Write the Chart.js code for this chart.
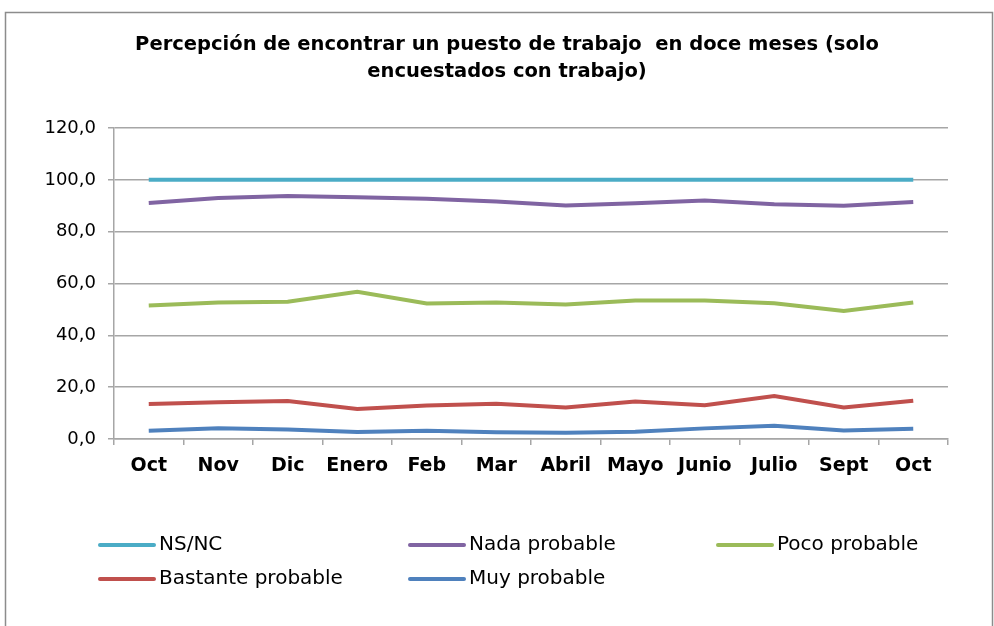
<!DOCTYPE html>
<html>
<head>
<meta charset="utf-8">
<script src="https://cdn.jsdelivr.net/npm/chart.js@4"></script>
<style>
  html, body { margin: 0; padding: 0; background: #fff; }
  #wrap { position: relative; width: 994px; height: 626px; }
</style>
</head>
<body>
<div id="wrap"><canvas id="chart" width="994" height="626"></canvas></div>
<script>
// Data
const months = ['Oct', 'Nov', 'Dic', 'Enero', 'Feb', 'Mar', 'Abril', 'Mayo', 'Junio', 'Julio', 'Sept', 'Oct'];
const nsnc = [100, 100, 100, 100, 100, 100, 100, 100, 100, 100, 100, 100];
const nadaProbable = [91.1, 93.0, 93.8, 93.3, 92.7, 91.6, 90.1, 91.0, 92.0, 90.6, 90.0, 91.4];
const pocoProbable = [51.5, 52.7, 53.0, 56.8, 52.3, 52.7, 51.9, 53.4, 53.4, 52.4, 49.4, 52.7];
const bastanteProbable = [13.5, 14.2, 14.7, 11.6, 12.9, 13.6, 12.2, 14.5, 13.0, 16.6, 12.2, 14.8];
const muyProbable = [3.2, 4.1, 3.7, 2.7, 3.2, 2.6, 2.4, 2.8, 4.1, 5.1, 3.3, 4.0];
const titleLines = ['Percepción de encontrar un puesto de trabajo  en doce meses (solo', 'encuestados con trabajo)'];

const FONT = "'DejaVu Sans', 'Liberation Sans', Arial, sans-serif";

function line(label, data, color) {
    return {
        label: label,
        data: data,
        borderColor: color,
        backgroundColor: color,
        borderWidth: 4,
        pointRadius: 0,
        tension: 0,
        fill: false
    };
}

// Title centred on the whole frame (Excel style), not on the plot
const titlePlugin = {
    id: 'frameTitle',
    afterDraw(chart) {
        const c = chart.ctx;
        c.save();
        c.font = 'bold 19.5px ' + FONT;
        c.fillStyle = '#000';
        c.textAlign = 'center';
        c.textBaseline = 'middle';
        titleLines.forEach((t, i) => c.fillText(t, 507, 45 + i * 27));
        c.restore();
    }
};

// Excel-like legend: 3 columns, 2 rows, below the plot
const legendPlugin = {
    id: 'customLegend',
    afterDraw(chart) {
        const c = chart.ctx;
        const cols = [100, 410, 718];
        const rows = [545, 579];
        c.save();
        c.font = '20px ' + FONT;
        c.textBaseline = 'middle';
        chart.data.datasets.forEach((ds, i) => {
            const x = cols[i % 3];
            const y = rows[Math.floor(i / 3)];
            c.strokeStyle = ds.borderColor;
            c.lineWidth = 4;
            c.lineCap = 'round';
            c.beginPath();
            c.moveTo(x, y);
            c.lineTo(x + 54, y);
            c.stroke();
            c.fillStyle = '#000';
            c.fillText(ds.label, x + 59, y);
        });
        c.restore();
    }
};

const borderPlugin = {
    id: 'frame',
    beforeDraw(chart) {
        const c = chart.ctx;
        c.save();
        c.strokeStyle = '#8c8c8c';
        c.lineWidth = 1.5;
        c.strokeRect(5.5, 12.5, 987, 700);
        c.restore();
    }
};

const ctx = document.getElementById('chart');
new Chart(ctx.getContext('2d'), {
    type: 'line',
    data: {
        labels: months,
        datasets: [
            line('NS/NC', nsnc, '#4BACC6'),
            line('Nada probable', nadaProbable, '#8064A2'),
            line('Poco probable', pocoProbable, '#9BBB59'),
            line('Bastante probable', bastanteProbable, '#C0504D'),
            line('Muy probable', muyProbable, '#4F81BD')
        ]
    },
    options: {
        responsive: false,
        animation: false,
        layout: { padding: { top: 128, right: 46, bottom: 127, left: 0 } },
        plugins: {
            legend: { display: false },
            tooltip: { enabled: false },
            title: { display: false }
        },
        scales: {
            x: {
                offset: true,
                afterFit(scale) { scale.height = 60; },
                grid: { offset: true, drawOnChartArea: false, color: '#a6a6a6', lineWidth: 1.5, tickLength: 6 },
                border: { color: '#a6a6a6', width: 1.5 },
                ticks: { color: '#000', padding: 10, font: { family: FONT, size: 19, weight: 'bold' }, maxRotation: 0 }
            },
            y: {
                min: 0,
                max: 120,
                afterFit(scale) { scale.width = 114; },
                grid: { color: '#a6a6a6', lineWidth: 1.5, tickLength: 6 },
                border: { color: '#a6a6a6', width: 1.5 },
                ticks: {
                    stepSize: 20,
                    color: '#000',
                    padding: 12,
                    font: { family: FONT, size: 18 },
                    callback: v => v.toFixed(1).replace('.', ',')
                }
            }
        }
    },
    plugins: [borderPlugin, titlePlugin, legendPlugin]
});
</script>
</body>
</html>
